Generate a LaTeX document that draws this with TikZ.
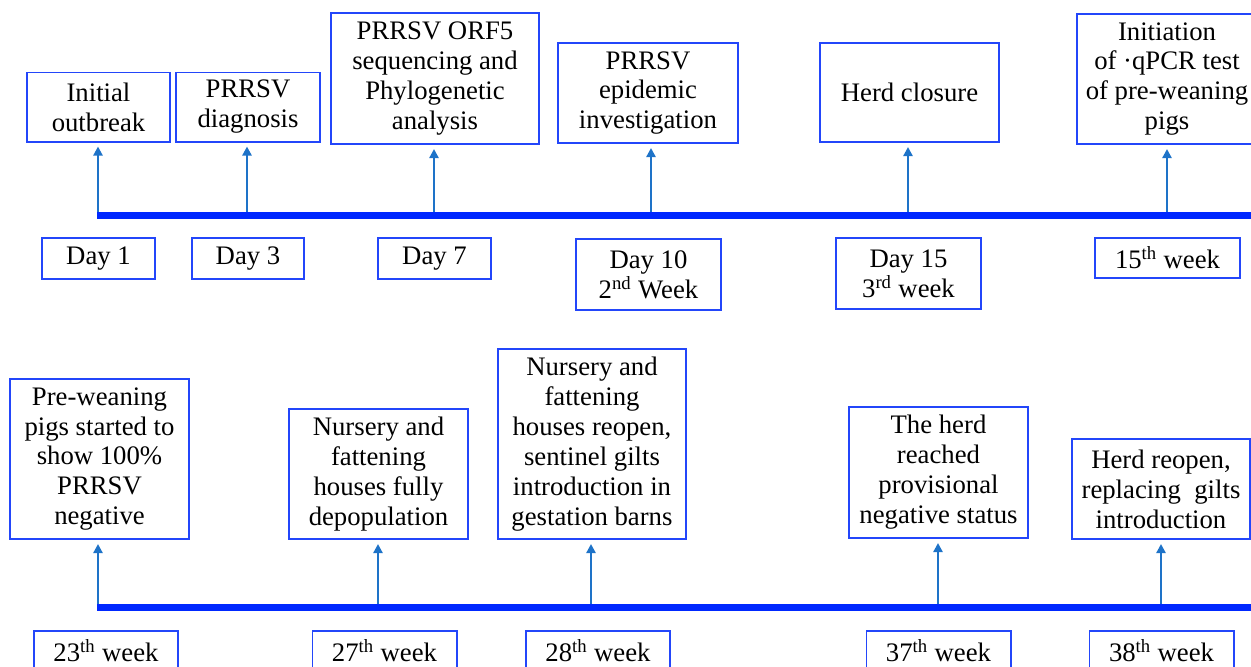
\documentclass[tikz,border=0pt]{standalone}
\usepackage{fontspec}
\setmainfont{Liberation Serif}
\usetikzlibrary{arrows.meta,positioning}
\definecolor{boxblue}{RGB}{35,70,250}
\definecolor{lineblue}{RGB}{0,40,255}
\definecolor{riseblue}{RGB}{30,115,200}
\tikzset{
  >={Triangle[length=2.3mm,width=2.3mm]},
  event/.style={
    draw=boxblue, rectangle, align=center, inner sep=0pt, line width=1.4pt,
    font=\fontsize{19}{21.3}\selectfont
  },
  stamp/.style={
    draw=boxblue, rectangle, align=center, inner sep=0pt, line width=1.4pt,
    font=\fontsize{19}{21.3}\selectfont, minimum width=3.6cm, minimum height=1cm
  },
  axis/.style={draw=lineblue, line width=5.2pt},
  riser/.style={->, draw=riseblue, line width=2pt, shorten >=1mm},
}

\begin{document}
\begin{tikzpicture}[x=0.025cm, y=-0.025cm]
  \useasboundingbox (0,0) rectangle (1251,666);
  \clip (0,0) rectangle (1251,666);

  \coordinate (a1) at (98,215.5);
  \coordinate (a2) at (247,215.5);
  \coordinate (a3) at (434,215.5);
  \coordinate (a4) at (651,215.5);
  \coordinate (a5) at (908,215.5);
  \coordinate (a6) at (1167,215.5);
  \coordinate (aend) at (1262,215.5);

  \node[event, anchor=south, minimum width=3.575cm, minimum height=1.725cm] (e1) at (98.5,142.5)
    {Initial\\outbreak};
  \node[event, anchor=south, minimum width=3.6cm, minimum height=1.725cm] (e2) at (248,142.5)
    {PRRSV\\diagnosis};
  \node[event, anchor=south, minimum width=5.2cm, minimum height=3.275cm] (e3) at (435,145)
    {PRRSV ORF5\\sequencing and\\Phylogenetic\\analysis};
  \node[event, anchor=south, minimum width=4.5cm, minimum height=2.5cm] (e4) at (648,144)
    {PRRSV\\epidemic\\investigation};
  \node[event, anchor=south, minimum width=4.475cm, minimum height=2.475cm] (e5) at (909.5,143)
    {Herd closure};
  \node[event, anchor=south, minimum width=4.5cm, minimum height=3.25cm] (e6) at (1167,145)
    {Initiation\\of ·qPCR test\\of pre-weaning\\pigs};

  \node[stamp, anchor=north, minimum width=2.825cm, minimum height=1.025cm] (d1) at (98.5,237) {Day 1};
  \node[stamp, anchor=north, minimum width=2.8cm, minimum height=1.025cm] (d2) at (248,237) {Day 3};
  \node[stamp, anchor=north, minimum width=2.825cm, minimum height=1.025cm] (d3) at (434.5,237) {Day 7};
  \node[stamp, anchor=north, minimum width=3.625cm, minimum height=1.775cm] (d4) at (648.5,238)
    {Day 10\\2\textsuperscript{nd} Week};
  \node[stamp, anchor=north, minimum width=3.625cm, minimum height=1.775cm] (d5) at (908.5,237)
    {Day 15\\3\textsuperscript{rd} week};
  \node[stamp, anchor=north, minimum width=3.625cm] (d6) at (1167.5,237)
    {15\textsuperscript{th} week};

  \draw[riser] (a1) -- (a1 |- e1.south);
  \draw[riser] (a2) -- (a2 |- e2.south);
  \draw[riser] (a3) -- (a3 |- e3.south);
  \draw[riser] (a4) -- (a4 |- e4.south);
  \draw[riser] (a5) -- (a5 |- e5.south);
  \draw[riser] (a6) -- (a6 |- e6.south);
  \draw[axis] (97,215.5) -- (aend);

  \coordinate (b1) at (98,607.5);
  \coordinate (b2) at (378,607.5);
  \coordinate (b3) at (591,607.5);
  \coordinate (b4) at (938,607.5);
  \coordinate (b5) at (1161,607.5);
  \coordinate (bend) at (1262,607.5);

  \node[event, anchor=south, minimum width=4.475cm, minimum height=4cm] (f1) at (99.5,540)
    {Pre-weaning\\pigs started to\\show 100\%\\PRRSV\\negative};
  \node[event, anchor=south, minimum width=4.475cm, minimum height=3.25cm] (f2) at (378.5,540)
    {Nursery and\\fattening\\houses fully\\depopulation};
  \node[event, anchor=south, minimum width=4.7cm, minimum height=4.75cm] (f3) at (592,540)
    {Nursery and\\fattening\\houses reopen,\\sentinel gilts\\introduction in\\gestation barns};
  \node[event, anchor=south, minimum width=4.475cm, minimum height=3.275cm] (f4) at (938.5,539)
    {The herd\\reached\\provisional\\negative status};
  \node[event, anchor=south, minimum width=4.45cm, minimum height=2.5cm] (f5) at (1161,540)
    {Herd reopen,\\replacing~ gilts\\introduction};

  \node[stamp, anchor=north] (g1) at (106,630) {23\textsuperscript{th} week};
  \node[stamp, anchor=north] (g2) at (384.5,630) {27\textsuperscript{th} week};
  \node[stamp, anchor=north] (g3) at (598,630) {28\textsuperscript{th} week};
  \node[stamp, anchor=north] (g4) at (938.5,630) {37\textsuperscript{th} week};
  \node[stamp, anchor=north] (g5) at (1161.5,630) {38\textsuperscript{th} week};

  \draw[riser] (b1) -- (b1 |- f1.south);
  \draw[riser] (b2) -- (b2 |- f2.south);
  \draw[riser] (b3) -- (b3 |- f3.south);
  \draw[riser] (b4) -- (b4 |- f4.south);
  \draw[riser] (b5) -- (b5 |- f5.south);
  \draw[axis] (97,607.5) -- (bend);
\end{tikzpicture}
\end{document}
